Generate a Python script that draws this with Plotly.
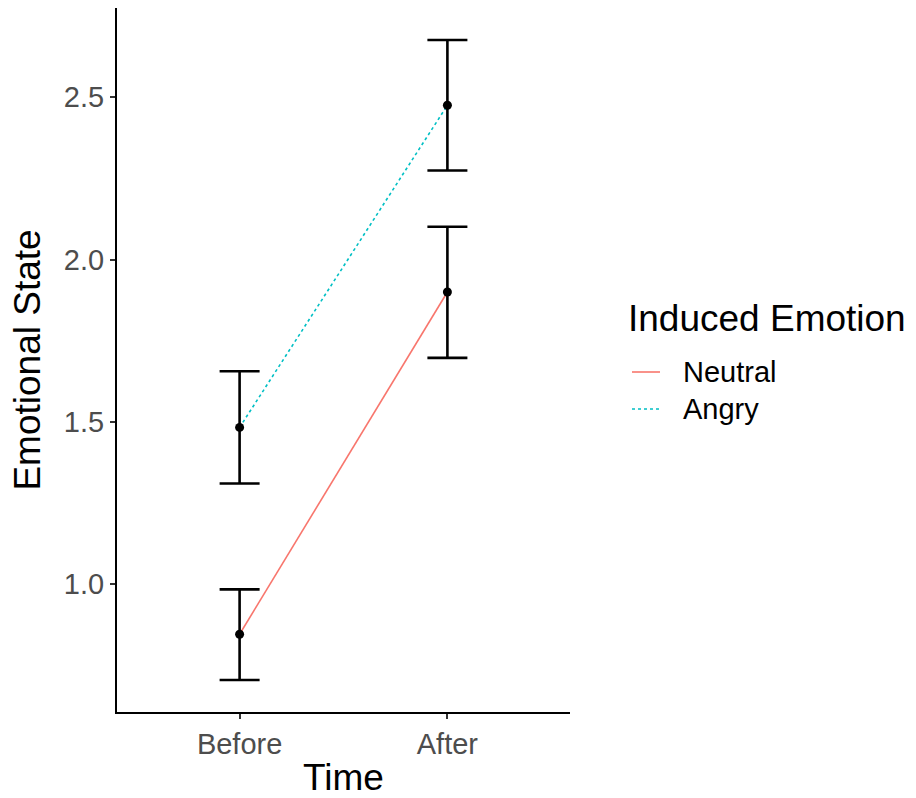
import plotly.graph_objects as go

# Group means and confidence limits of emotional state by time point
time_points = ["Before", "After"]
neutral_mean = [0.846, 1.900]
neutral_low = [0.705, 1.697]
neutral_high = [0.984, 2.101]
angry_mean = [1.483, 2.475]
angry_low = [1.310, 2.274]
angry_high = [1.656, 2.676]

groups = ["Neutral", "Angry"]
group_colors = {"Neutral": "#F8766D", "Angry": "#00BFC4"}
group_dash = {"Neutral": "solid", "Angry": "dot"}
FONT = "Liberation Sans, Arial, sans-serif"

# Plot area geometry in pixels (for placing the legend next to the panel)
W, H = 916, 798
M_L, M_R, M_T, M_B = 117, 346, 8, 86
PW, PH = W - M_L - M_R, H - M_T - M_B


def px_x(p):
    return (p - M_L) / PW


def px_y(p):
    return (H - M_B - p) / PH


fig = go.Figure()

# Connecting lines for each induced emotion
for name, mean in zip(groups, [neutral_mean, angry_mean]):
    fig.add_trace(go.Scatter(
        x=time_points, y=mean, mode="lines", name=name, showlegend=False,
        line=dict(color=group_colors[name], width=1.6, dash=group_dash[name]),
    ))

# Means with error bars (black)
for mean, low, high in [(neutral_mean, neutral_low, neutral_high),
                        (angry_mean, angry_low, angry_high)]:
    fig.add_trace(go.Scatter(
        x=time_points, y=mean, mode="markers", showlegend=False,
        marker=dict(color="black", size=9),
        error_y=dict(
            type="data", symmetric=False,
            array=[h - m for h, m in zip(high, mean)],
            arrayminus=[m - l for m, l in zip(mean, low)],
            color="black", thickness=2.6, width=20,
        ),
    ))

all_vals = neutral_low + neutral_high + angry_low + angry_high
lo, hi = min(all_vals), max(all_vals)
pad = (hi - lo) * 0.05

# Legend: title plus a key line and label per group
annotations = [dict(
    text="Induced Emotion", xref="paper", yref="paper",
    x=px_x(626), y=px_y(318), xanchor="left", yanchor="middle",
    showarrow=False, font=dict(size=37, color="black", family=FONT),
)]
shapes = []
for i, name in enumerate(groups):
    cy = 372 + i * 37
    shapes.append(dict(
        type="line", xref="paper", yref="paper",
        x0=px_x(632), x1=px_x(660), y0=px_y(cy), y1=px_y(cy),
        line=dict(color=group_colors[name], width=1.6, dash=group_dash[name]),
    ))
    annotations.append(dict(
        text=name, xref="paper", yref="paper",
        x=px_x(681), y=px_y(cy), xanchor="left", yanchor="middle",
        showarrow=False, font=dict(size=29, color="black", family=FONT),
    ))

fig.update_layout(
    width=W, height=H,
    paper_bgcolor="white", plot_bgcolor="white",
    margin=dict(l=M_L, r=M_R, t=M_T, b=M_B),
    font=dict(family=FONT),
    showlegend=False,
    annotations=annotations,
    shapes=shapes,
    xaxis=dict(
        type="category", range=[-0.59, 1.59],
        showgrid=False, zeroline=False, automargin=False,
        showline=True, linecolor="black", linewidth=2,
        ticks="outside", ticklen=5, tickwidth=1.5, tickcolor="#333333",
        tickfont=dict(size=29, color="#4D4D4D"),
        title=dict(text="Time", font=dict(size=37, color="black"), standoff=9),
    ),
    yaxis=dict(
        range=[lo - pad, hi + pad],
        tickvals=[1.0, 1.5, 2.0, 2.5], ticktext=["1.0", "1.5", "2.0", "2.5"],
        showgrid=False, zeroline=False, automargin=False,
        showline=True, linecolor="black", linewidth=2,
        ticks="outside", ticklen=5, tickwidth=1.5, tickcolor="#333333",
        tickfont=dict(size=29, color="#4D4D4D"),
        title=dict(text="Emotional State", font=dict(size=37, color="black"), standoff=12),
    ),
)

fig.write_html("out.html")
